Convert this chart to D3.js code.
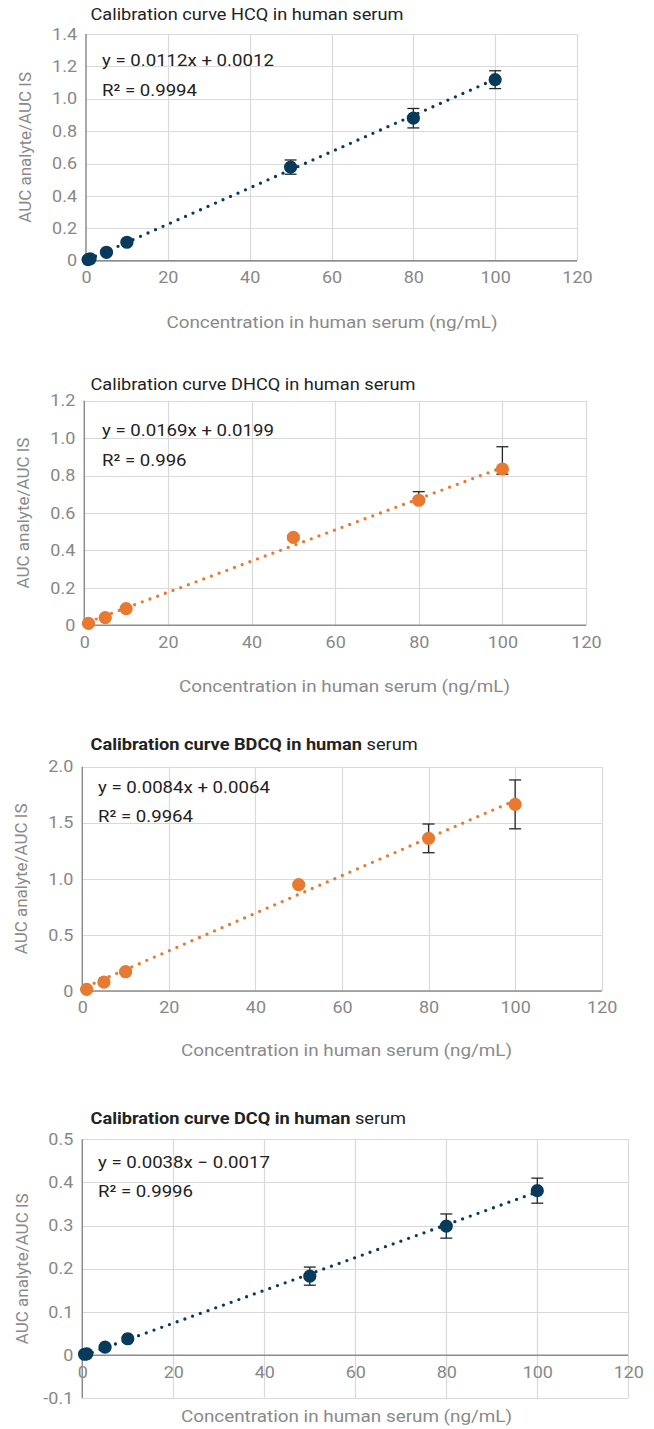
<!DOCTYPE html>
<html>
<head>
<meta charset="utf-8">
<script src="https://cdn.jsdelivr.net/npm/d3@7"></script>
<style>
  html, body { margin: 0; padding: 0; background: #fff; }
  svg { display: block; font-family: Roboto, "Noto Sans", sans-serif; }
</style>
</head>
<body>
<svg id="chart" width="654" height="1429"></svg>
<script>
// ---------------- DATA ----------------
const xTicks = [0, 20, 40, 60, 80, 100, 120];
const xTickLabels = ["0", "20", "40", "60", "80", "100", "120"];

// HCQ
const concHCQ  = [0.5, 1, 5, 10, 50, 80, 100];
const ratioHCQ = [0.007, 0.012, 0.052, 0.114, 0.578, 0.880, 1.118];
const errUpHCQ = [0.003, 0.003, 0.004, 0.006, 0.044, 0.060, 0.055];
const errDnHCQ = [0.003, 0.003, 0.004, 0.006, 0.044, 0.060, 0.055];
const yTicksHCQ = [0, 0.2, 0.4, 0.6, 0.8, 1.0, 1.2, 1.4];
const yLabelsHCQ = ["0", "0.2", "0.4", "0.6", "0.8", "1.0", "1.2", "1.4"];

// DHCQ
const concDHCQ  = [1, 5, 10, 50, 80, 100];
const ratioDHCQ = [0.010, 0.041, 0.089, 0.470, 0.668, 0.835];
const errUpDHCQ = [0.004, 0.004, 0.006, 0.010, 0.046, 0.119];
const errDnDHCQ = [0.004, 0.004, 0.006, 0.010, 0.010, 0.028];
const yTicksDHCQ = [0, 0.2, 0.4, 0.6, 0.8, 1.0, 1.2];
const yLabelsDHCQ = ["0", "0.2", "0.4", "0.6", "0.8", "1.0", "1.2"];

// BDCQ
const concBDCQ  = [1, 5, 10, 50, 80, 100];
const ratioBDCQ = [0.015, 0.080, 0.172, 0.948, 1.361, 1.664];
const errUpBDCQ = [0.008, 0.010, 0.015, 0.012, 0.128, 0.218];
const errDnBDCQ = [0.008, 0.010, 0.015, 0.012, 0.128, 0.218];
const yTicksBDCQ = [0, 0.5, 1.0, 1.5, 2.0];
const yLabelsBDCQ = ["0", "0.5", "1.0", "1.5", "2.0"];

// DCQ
const concDCQ  = [0.5, 1, 5, 10, 50, 80, 100];
const ratioDCQ = [0.002, 0.003, 0.0185, 0.038, 0.183, 0.299, 0.381];
const errUpDCQ = [0.001, 0.001, 0.002, 0.004, 0.021, 0.028, 0.029];
const errDnDCQ = [0.001, 0.001, 0.002, 0.004, 0.021, 0.028, 0.029];
const yTicksDCQ = [-0.1, 0, 0.1, 0.2, 0.3, 0.4, 0.5];
const yLabelsDCQ = ["-0.1", "0", "0.1", "0.2", "0.3", "0.4", "0.5"];

// Dotted trendlines as drawn (start x, start y, end x, end y)
const trendX0 = [0.5, 1, 1, 0.5];
const trendY0 = [0.007, 0.018, 0.040, 0.000];
const trendX1 = [100, 100, 100, 100];
const trendY1 = [1.121, 0.843, 1.700, 0.378];

const eqLabels = ["y = 0.0112x + 0.0012", "y = 0.0169x + 0.0199", "y = 0.0084x + 0.0064", "y = 0.0038x \u2212 0.0017"];
const r2Labels = ["R\u00b2 = 0.9994", "R\u00b2 = 0.996", "R\u00b2 = 0.9964", "R\u00b2 = 0.9996"];
const titleBold = ["", "", "Calibration curve BDCQ in human", "Calibration curve DCQ in human"];
const titleRest = ["Calibration curve HCQ in human serum", "Calibration curve DHCQ in human serum", " serum", " serum"];
const yAxisTitle = "AUC analyte/AUC IS";
const xAxisTitle = "Concentration in human serum (ng/mL)";

// ---------------- STYLE / LAYOUT ----------------
const NAVY = "#083b5b";
const ORANGE = "#e77a30";
const SX = 1.11; // horizontal text stretch seen in the reference

const panels = [
  { conc: concHCQ, ratio: ratioHCQ, up: errUpHCQ, dn: errDnHCQ, yTicks: yTicksHCQ, yLabels: yLabelsHCQ,
    yDom: [0, 1.4], color: NAVY,
    left: 86, right: 577, top: 34, bottom: 260.7,
    titleX: 90.5, titleY: 20, eqX: 102, eqY: 66, r2Y: 96, yTitleX: 25, xTitleX: 332, xTitleY: 328 },
  { conc: concDHCQ, ratio: ratioDHCQ, up: errUpDHCQ, dn: errDnDHCQ, yTicks: yTicksDHCQ, yLabels: yLabelsDHCQ,
    yDom: [0, 1.2], color: ORANGE,
    left: 84.3, right: 586, top: 400.7, bottom: 625.3,
    titleX: 90.5, titleY: 389.5, eqX: 102, eqY: 436, r2Y: 466, yTitleX: 23, xTitleX: 344.5, xTitleY: 692 },
  { conc: concBDCQ, ratio: ratioBDCQ, up: errUpBDCQ, dn: errDnBDCQ, yTicks: yTicksBDCQ, yLabels: yLabelsBDCQ,
    yDom: [0, 2.0], color: ORANGE,
    left: 82.3, right: 601.7, top: 766.7, bottom: 991,
    titleX: 90.5, titleY: 749.5, eqX: 98, eqY: 793, r2Y: 822, yTitleX: 21, xTitleX: 346.5, xTitleY: 1056 },
  { conc: concDCQ, ratio: ratioDCQ, up: errUpDCQ, dn: errDnDCQ, yTicks: yTicksDCQ, yLabels: yLabelsDCQ,
    yDom: [-0.1, 0.5], color: NAVY,
    left: 82.3, right: 628.3, top: 1139.3, bottom: 1398.3,
    titleX: 90.5, titleY: 1123.5, eqX: 98, eqY: 1167.5, r2Y: 1196.5, yTitleX: 22, xTitleX: 346.5, xTitleY: 1422 }
];

const svg = d3.select("#chart");

function stretchedText(g, x, y, size, fill) {
  return g.append("text").attr("transform", `translate(${x},${y}) scale(${SX},1)`)
    .attr("font-size", size).attr("fill", fill);
}

panels.forEach((p, i) => {
  const g = svg.append("g");
  const x = d3.scaleLinear().domain([0, 120]).range([p.left, p.right]);
  const y = d3.scaleLinear().domain(p.yDom).range([p.bottom, p.top]);
  const y0 = y(0);

  // gridlines
  g.append("g").selectAll("line").data(p.yTicks).join("line")
    .attr("x1", p.left).attr("x2", p.right)
    .attr("y1", d => Math.round(y(d)) + 0.5).attr("y2", d => Math.round(y(d)) + 0.5)
    .attr("stroke", "#d9d9d9").attr("stroke-width", 1.2);
  g.append("g").selectAll("line").data(xTicks.filter(d => d > 0)).join("line")
    .attr("x1", d => Math.round(x(d)) + 0.5).attr("x2", d => Math.round(x(d)) + 0.5)
    .attr("y1", p.top).attr("y2", p.bottom)
    .attr("stroke", "#d9d9d9").attr("stroke-width", 1.2);

  // axes (labels only)
  const yAxis = d3.axisLeft(y).tickValues(p.yTicks)
    .tickFormat((d, k) => p.yLabels[k]).tickSize(0).tickPadding(0);
  const ya = g.append("g").attr("transform", `translate(${p.left - 9},0)`).call(yAxis);
  ya.select(".domain").remove();
  ya.selectAll("text").attr("x", 0).attr("transform", `scale(${SX},1)`)
    .attr("fill", "#878787").attr("font-size", 16.2).attr("font-family", "Roboto");

  const xAxis = d3.axisBottom(x).tickValues(xTicks)
    .tickFormat((d, k) => xTickLabels[k]).tickSize(0).tickPadding(11);
  const xa = g.append("g").attr("transform", `translate(0,${y0})`).call(xAxis);
  xa.select(".domain").remove();
  xa.selectAll("text").attr("transform", `scale(${SX},1)`)
    .attr("fill", "#878787").attr("font-size", 16.2).attr("font-family", "Roboto");

  // axis lines
  g.append("line").attr("x1", p.left).attr("x2", p.left).attr("y1", p.top).attr("y2", p.bottom)
    .attr("stroke", "#8c8c8c").attr("stroke-width", 1.5);
  g.append("line").attr("x1", p.left).attr("x2", p.right).attr("y1", y0).attr("y2", y0)
    .attr("stroke", "#8c8c8c").attr("stroke-width", 1.5);

  // trendline
  const pts = [[trendX0[i], trendY0[i]], [trendX1[i], trendY1[i]]];
  const line = d3.line().x(d => x(d[0])).y(d => y(d[1]));
  g.append("path").attr("d", line(pts)).attr("fill", "none")
    .attr("stroke", p.color).attr("stroke-width", 3.3)
    .attr("stroke-linecap", "round").attr("stroke-dasharray", "0 8.2");

  // error bars
  const idx = d3.range(p.conc.length);
  const eb = g.append("g").attr("stroke", "#262626").attr("stroke-width", 1.3);
  idx.forEach(k => {
    const cx = x(p.conc[k]);
    const yt = y(p.ratio[k] + p.up[k]), yb = y(p.ratio[k] - p.dn[k]);
    eb.append("line").attr("x1", cx).attr("x2", cx).attr("y1", yt).attr("y2", yb);
    eb.append("line").attr("x1", cx - 6).attr("x2", cx + 6).attr("y1", yt).attr("y2", yt);
    eb.append("line").attr("x1", cx - 6).attr("x2", cx + 6).attr("y1", yb).attr("y2", yb);
  });

  // markers
  g.append("g").selectAll("circle").data(idx).join("circle")
    .attr("cx", k => x(p.conc[k])).attr("cy", k => y(p.ratio[k]))
    .attr("r", 6.6).attr("fill", p.color);

  // title
  const t = stretchedText(g, p.titleX, p.titleY, 16.4, "#222");
  if (titleBold[i]) t.append("tspan").attr("font-weight", "bold").text(titleBold[i]);
  t.append("tspan").text(titleRest[i]);

  // equation
  stretchedText(g, p.eqX, p.eqY, 16.8, "#222").text(eqLabels[i]);
  stretchedText(g, p.eqX, p.r2Y, 16.8, "#222").text(r2Labels[i]);

  // axis titles
  g.append("text").attr("transform", `translate(${p.yTitleX},${(p.top + p.bottom) / 2}) rotate(-90)`)
    .attr("text-anchor", "middle").attr("dominant-baseline", "central")
    .attr("font-size", 17).attr("fill", "#8a8a8a").text(yAxisTitle);
  stretchedText(g, p.xTitleX, p.xTitleY, 17, "#8a8a8a")
    .attr("text-anchor", "middle").text(xAxisTitle);
});
</script>
</body>
</html>
